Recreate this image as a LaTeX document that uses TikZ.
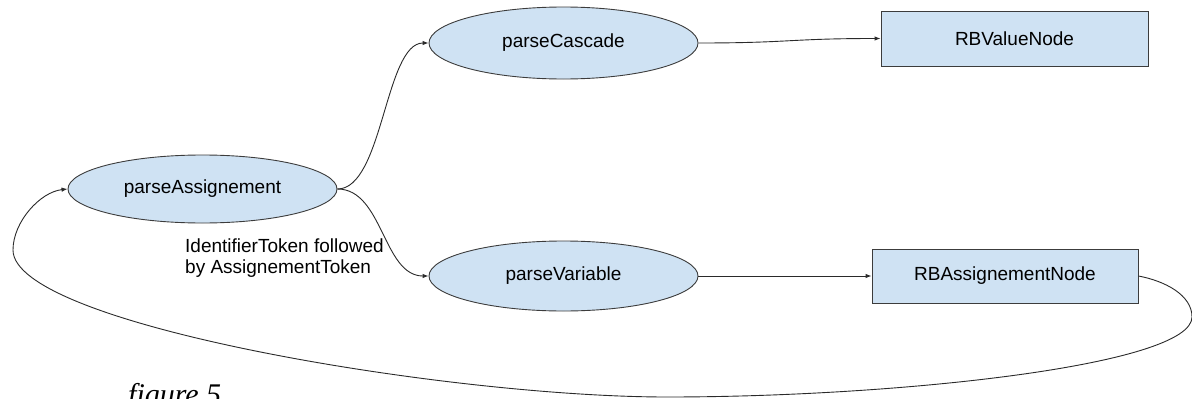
\documentclass[tikz,border=0pt]{standalone}
\usepackage{fontspec}
\setmainfont{Liberation Sans}
\newfontfamily\captionserif{Liberation Serif}
\usetikzlibrary{shapes.geometric,arrows.meta}

\definecolor{fillblue}{HTML}{CFE2F3}
\definecolor{outline}{HTML}{3C3C3C}
\definecolor{wire}{HTML}{2A2A2A}

\begin{document}
\begin{tikzpicture}[x=1pt,y=-1pt,
  parser/.style={ellipse, draw=outline, fill=fillblue, line width=0.9pt,
    minimum width=269pt, minimum height=70pt, inner sep=0pt,
    text height=1.12em, text depth=0.2em,
    font=\fontsize{19}{21}\selectfont},
  result/.style={rectangle, draw=outline, fill=fillblue, line width=0.9pt,
    minimum width=266pt, minimum height=55pt, inner sep=0pt,
    font=\fontsize{19}{21}\selectfont},
  conn/.style={draw=wire, line width=0.9pt, -{Latex[length=6pt,width=4.5pt]}},
  note/.style={inner sep=0pt, align=left, font=\fontsize{19}{21}\selectfont},
]
\useasboundingbox (0,0) rectangle (1192,399);
\clip (0,0) rectangle (1192,399);

% parser routines
\node[parser, minimum height=68pt] (pa) at (202.5,189) {parseAssignement};
\node[parser, minimum height=72pt] (pc) at (563.5,43) {parseCascade};
\node[parser] (pv) at (563.5,276) {parseVariable};

% resulting nodes
\node[result, minimum width=267pt] (vn) at (1014.5,38.5) {RBValueNode};
\node[result, minimum height=54pt] (an) at (1005,276) {RBAssignementNode};

% branch condition
\node[note, anchor=north west] (cond) at (185,239)
  {IdentifierToken followed\\by AssignementToken};

% connectors
\draw[conn] (pa.east) .. controls (383,189) and (385,43) .. (pc.west);
\draw[conn] (pa.east) .. controls (383,189) and (383,276) .. (pv.west);
\draw[conn] (pc.east) .. controls (790,43) and (790,38.5) .. (vn.west);
\draw[conn] (pv.east) -- (an.west);

% recursion back to parseAssignement
\draw[conn] (an.east) .. controls (1165,281) and (1192,295) .. (1192,317)
  .. controls (1192,365) and (900,397) .. (667,397)
  .. controls (450,397) and (13,325) .. (13,250)
  .. controls (13,222) and (40,192) .. (pa.west);

% caption
\node[anchor=base west, inner sep=0pt,
  font=\captionserif\itshape\fontsize{30}{30}\selectfont] (fig) at (128,404) {figure 5};
\end{tikzpicture}
\end{document}
